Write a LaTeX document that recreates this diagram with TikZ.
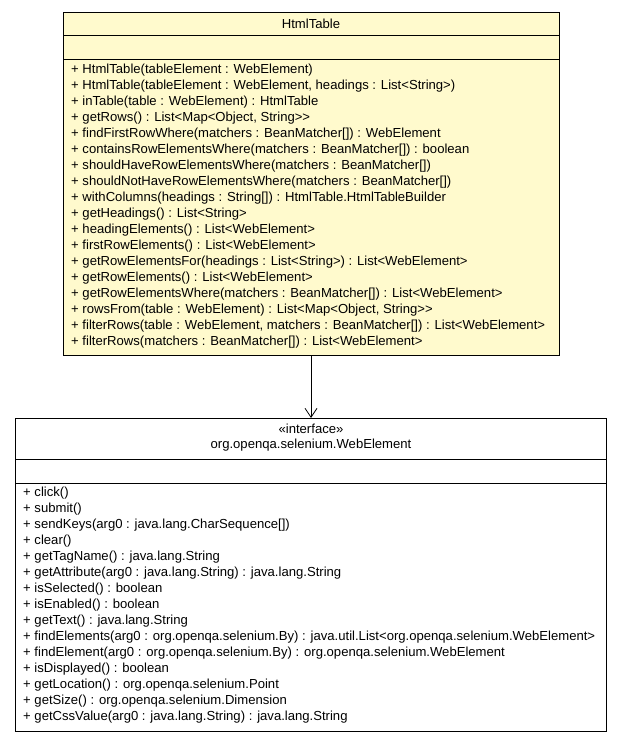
\documentclass[tikz,border=0pt]{standalone}
\usepackage{fontspec}
\setmainfont{Liberation Sans}
\usetikzlibrary{positioning,arrows.meta}
\definecolor{classyellow}{RGB}{255,250,205}
\begin{document}
\begin{tikzpicture}[x=1pt,y=-1pt,
  box/.style={draw,line width=0.8pt,inner sep=0pt},
  txt/.style={font=\fontsize{13.1}{16}\selectfont,inner sep=0pt},
  ops/.style={txt,align=left,anchor=north west}]

\useasboundingbox (0,0) rectangle (621,741);

% ---- HtmlTable ----
\filldraw[box,fill=classyellow] (63,12) rectangle (559,355);
\draw[line width=0.8pt] (63,35) -- (559,35);
\draw[line width=0.8pt] (63,59) -- (559,59);
\node[txt] (tabletitle) at (311,23.5) {HtmlTable};
\node[ops] (tableops) at (71,63.5) {%
+ HtmlTable(tableElement : WebElement)\\
+ HtmlTable(tableElement : WebElement, headings : List<String>)\\
+ inTable(table : WebElement) : HtmlTable\\
+ getRows() : List<Map<Object, String>{}>\\
+ findFirstRowWhere(matchers : BeanMatcher[]) : WebElement\\
+ containsRowElementsWhere(matchers : BeanMatcher[]) : boolean\\
+ shouldHaveRowElementsWhere(matchers : BeanMatcher[])\\
+ shouldNotHaveRowElementsWhere(matchers : BeanMatcher[])\\
+ withColumns(headings : String[]) : HtmlTable.HtmlTableBuilder\\
+ getHeadings() : List<String>\\
+ headingElements() : List<WebElement>\\
+ firstRowElements() : List<WebElement>\\
+ getRowElementsFor(headings : List<String>) : List<WebElement>\\
+ getRowElements() : List<WebElement>\\
+ getRowElementsWhere(matchers : BeanMatcher[]) : List<WebElement>\\
+ rowsFrom(table : WebElement) : List<Map<Object, String>{}>\\
+ filterRows(table : WebElement, matchers : BeanMatcher[]) : List<WebElement>\\
+ filterRows(matchers : BeanMatcher[]) : List<WebElement>};
\coordinate (tablebottom) at (311,355);

% ---- WebElement ----
\draw[box] (15,418) rectangle (606,731);
\draw[line width=0.8pt] (15,459) -- (606,459);
\draw[line width=0.8pt] (15,483) -- (606,483);
\node[txt] (stereo) at (311,429) {\guillemotleft interface\guillemotright};
\node[txt] (elemtitle) at (311,445) {org.openqa.selenium.WebElement};
\node[ops] (elemops) at (23,487) {%
+ click()\\
+ submit()\\
+ sendKeys(arg0 : java.lang.CharSequence[])\\
+ clear()\\
+ getTagName() : java.lang.String\\
+ getAttribute(arg0 : java.lang.String) : java.lang.String\\
+ isSelected() : boolean\\
+ isEnabled() : boolean\\
+ getText() : java.lang.String\\
+ findElements(arg0 : org.openqa.selenium.By) : java.util.List<org.openqa.selenium.WebElement>\\
+ findElement(arg0 : org.openqa.selenium.By) : org.openqa.selenium.WebElement\\
+ isDisplayed() : boolean\\
+ getLocation() : org.openqa.selenium.Point\\
+ getSize() : org.openqa.selenium.Dimension\\
+ getCssValue(arg0 : java.lang.String) : java.lang.String};
\coordinate (elemtop) at (311,418);

% Dependency
\draw[-{Straight Barb[length=9pt,width=12pt,line width=0.8pt]},line width=0.8pt] (tablebottom) -- (elemtop);

\end{tikzpicture}
\end{document}
